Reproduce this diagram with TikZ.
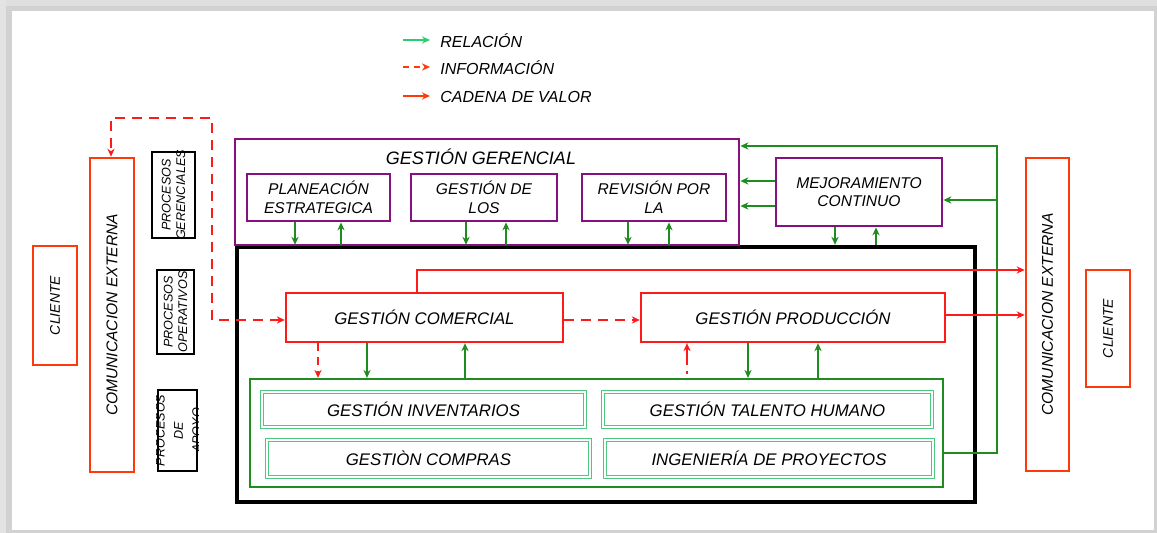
\documentclass[tikz,border=0pt]{standalone}
\usepackage{fontspec}
\setmainfont{Liberation Sans}
\usetikzlibrary{arrows.meta,fit,calc}

\definecolor{vred}{HTML}{FF1A1A}
\definecolor{ored}{HTML}{FF3A0A}
\definecolor{dgreen}{HTML}{1E8C1E}
\definecolor{lgreen}{HTML}{2ECC71}
\definecolor{mgreen}{HTML}{4CC97F}
\definecolor{purp}{HTML}{84117F}

\newcommand{\fs}[1]{\fontsize{#1}{#1}\selectfont\itshape}

\begin{document}
\begin{tikzpicture}[x=0.5pt,y=-0.5pt,
  tip/.tip={Stealth[length=4pt,width=3.6pt]},
  box/.style={inner sep=0pt, draw},
  obox/.style={box, draw=ored, line width=1.3pt},
  kbox/.style={box, draw=black, line width=1.2pt},
  pbox/.style={box, draw=purp, line width=1.4pt},
  rbox/.style={box, draw=vred, line width=1.2pt},
  gbox/.style={box, draw=mgreen, line width=0.45pt, double, double distance=1.1pt},
  txt/.style={inner sep=0pt, align=center},
  garr/.style={draw=dgreen, line width=1.1pt, -tip},
  rarr/.style={draw=vred, line width=1.1pt, -tip},
  rdash/.style={draw=vred, line width=1.1pt, -tip, dash pattern=on 5pt off 3.5pt},
]
\useasboundingbox (0,0) rectangle (1157,533);

% page frame with soft shadow
\fill[gray!35] (0,0) rectangle (1157,533);
\fill[gray!25] (0,0) rectangle (1157,6);
\fill[gray!22] (0,0) rectangle (6,533);
\fill[white] (12,11) rectangle (1154,530);

% legend
\coordinate (l1a) at (403,40);  \coordinate (l1b) at (430,40);
\coordinate (l2a) at (403,67);  \coordinate (l2b) at (430,67);
\coordinate (l3a) at (403,96);  \coordinate (l3b) at (430,96);
\draw[draw=lgreen, line width=1.1pt, -tip] (l1a) -- (l1b);
\draw[draw=ored, line width=1.1pt, -tip, dash pattern=on 3pt off 2.5pt] (l2a) -- (l2b);
\draw[draw=ored, line width=1.3pt, -tip] (l3a) -- (l3b);
\node[txt, anchor=west, font=\fs{8}] (t1) at (440,41) {RELACIÓN};
\node[txt, anchor=west, font=\fs{8}] (t2) at (440,68) {INFORMACIÓN};
\node[txt, anchor=west, font=\fs{8}] (t3) at (440,97) {CADENA DE VALOR};

% large black frame of the operative processes
\node[box, draw=black, line width=2.2pt, fit={(237,247) (975,502)}] (blk) {};

% left side
\node[obox, fit={(33,246) (77,365)}] (cl1) {};
\node[txt, rotate=90, font=\fs{7}] (cl1t) at (cl1.center) {CLIENTE};
\node[obox, fit={(90,158) (134,472)}] (ce1) {};
\node[txt, rotate=90, font=\fs{7.8}] (ce1t) at (ce1.center) {COMUNICACION EXTERNA};

\node[kbox, fit={(152,152) (195,238)}] (pg) {};
\node[txt, rotate=90, font=\fs{6.3}, text width=48pt] (pgt) at (pg.center) {PROCESOS\\[1pt]GERENCIALES};
\node[kbox, fit={(157,270) (194,354)}] (po) {};
\node[txt, rotate=90, font=\fs{6.3}, text width=48pt] (pot) at (po.center) {PROCESOS\\[1pt]OPERATIVOS};
\node[kbox, fit={(158,390) (197,471)}] (pa) {};
\begin{scope}
  \clip (pa.south west) rectangle (pa.north east);
  \node[txt, rotate=90, font=\fs{6.3}, text width=48pt] (pat) at ([xshift=0.5pt]pa.center) {PROCESOS\\[2.8pt]DE\\[2.8pt]APOYO};
\end{scope}

% right side
\node[obox, fit={(1026,158) (1069,471)}] (ce2) {};
\node[txt, rotate=90, font=\fs{7.8}] (ce2t) at (ce2.center) {COMUNICACION EXTERNA};
\node[obox, fit={(1086,270) (1130,387)}] (cl2) {};
\node[txt, rotate=90, font=\fs{7}] (cl2t) at (cl2.center) {CLIENTE};

% management block
\node[pbox, fit={(235,139) (739,245)}] (gg) {};
\node[txt, font=\fs{9}] (ggt) at (481,157) {GESTIÓN GERENCIAL};
\node[pbox, fit={(247,174) (390,221)}] (pl) {};
\node[txt, font=\fs{7.8}] (plt) at (pl.center) {PLANEACIÓN\\[1.5pt]ESTRATEGICA};
\node[pbox, fit={(411,174) (557,221)}] (gl) {};
\node[txt, font=\fs{7.8}] (glt) at (gl.center) {GESTIÓN DE\\[1.5pt]LOS};
\node[pbox, fit={(582,174) (726,221)}] (rv) {};
\node[txt, font=\fs{7.8}] (rvt) at (rv.center) {REVISIÓN POR\\[1.5pt]LA};
\node[pbox, fit={(776,158) (942,226)}] (mj) {};
\node[txt, font=\fs{7.8}] (mjt) at (mj.center) {MEJORAMIENTO\\[1.5pt]CONTINUO};

% operative processes
\node[rbox, fit={(286,293) (563,342)}] (gc) {};
\node[txt, font=\fs{8.4}] (gct) at (gc.center) {GESTIÓN COMERCIAL};
\node[rbox, fit={(641,293) (945,342)}] (gp) {};
\node[txt, font=\fs{8.4}] (gpt) at (gp.center) {GESTIÓN PRODUCCIÓN};

% support processes
\node[box, draw=dgreen, line width=1.1pt, fit={(250,379) (943,487)}] (gs) {};
\node[gbox, fit={(262,392) (585,427)}] (gi) {};
\node[txt, font=\fs{8.4}] (git) at (gi.center) {GESTIÓN INVENTARIOS};
\node[gbox, fit={(603,392) (932,427)}] (gt) {};
\node[txt, font=\fs{8.4}] (gtt) at (gt.center) {GESTIÓN TALENTO HUMANO};
\node[gbox, fit={(267,440) (590,477)}] (gco) {};
\node[txt, font=\fs{8.4}] (gcot) at (gco.center) {GESTIÒN COMPRAS};
\node[gbox, fit={(605,440) (933,477)}] (ip) {};
\node[txt, font=\fs{8.4}] (ipt) at (ip.center) {INGENIERÍA DE PROYECTOS};

% relations between management boxes and the operative frame
\draw[garr] (295,0 |- pl.south) -- (295,0 |- blk.north);
\draw[garr] (341,0 |- blk.north) -- (341,0 |- pl.south);
\draw[garr] (466,0 |- gl.south) -- (466,0 |- blk.north);
\draw[garr] (506,0 |- blk.north) -- (506,0 |- gl.south);
\draw[garr] (628,0 |- rv.south) -- (628,0 |- blk.north);
\draw[garr] (669,0 |- blk.north) -- (669,0 |- rv.south);
\draw[garr] (835,0 |- mj.south) -- (835,0 |- blk.north);
\draw[garr] (876,0 |- blk.north) -- (876,0 |- mj.south);

% continuous improvement feeding the management block
\draw[garr] (mj.west |- 0,181) -- (gg.east |- 0,181);
\draw[garr] (mj.west |- 0,206) -- (gg.east |- 0,206);
\draw[garr] (gs.east |- 0,453) -- (997,453) -- (997,146) -- (gg.east |- 0,146);
\draw[garr] (997,200) -- (mj.east |- 0,200);

% relations between operative and support processes
\draw[rdash, dash pattern=on 4pt off 3pt] (318,0 |- gc.south) -- (318,0 |- gs.north);
\draw[garr] (367,0 |- gc.south) -- (367,0 |- gs.north);
\draw[garr] (465,0 |- gs.north) -- (465,0 |- gc.south);
\draw[rdash, dash pattern=on 1.5pt off 3pt on 20pt off 1pt] (687,374) -- (687,0 |- gp.south);
\draw[garr] (748,0 |- gp.south) -- (748,0 |- gs.north);
\draw[garr] (818,0 |- gs.north) -- (818,0 |- gp.south);

% information flows
\draw[rdash] (gc.east |- 0,320) -- (gp.west |- 0,320);
\draw[rdash, tip-tip] (gc.west |- 0,320) -- (212,320) -- (212,118) -- (111,118) -- (111,0 |- ce1.north);

% value chain
\draw[rarr] (417,0 |- gc.north) -- (417,270) -- (ce2.west |- 0,270);
\draw[rarr] (gp.east |- 0,315) -- (ce2.west |- 0,315);
\end{tikzpicture}
\end{document}
